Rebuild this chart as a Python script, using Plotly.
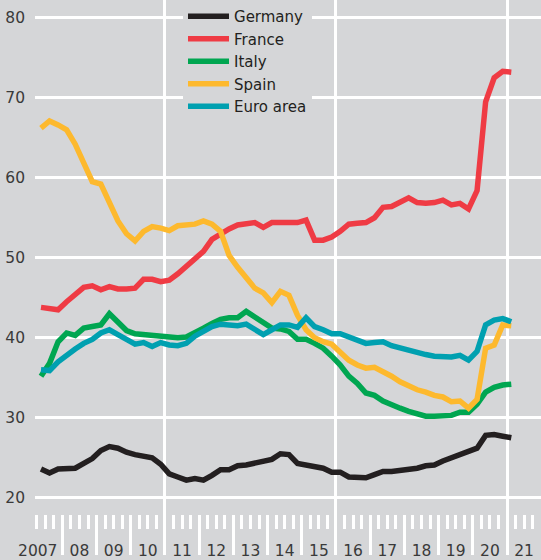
import plotly.graph_objects as go

# Quarterly observations, 2007Q2 .. 2021Q1
start_year, start_q = 2007, 2
n_obs = 56
quarters = []
y, q = start_year, start_q
for _ in range(n_obs):
    quarters.append((y, q))
    q += 1
    if q > 4:
        q = 1
        y += 1
x_vals = [yy + (qq - 0.5) / 4 for yy, qq in quarters]

germany = [23.6, 23.1, 23.6, 23.7, 23.7, 24.3, 24.9, 25.9, 26.4, 26.2,
           25.7, 25.4, 25.2, 25.0, 24.2, 23.0, 22.6, 22.2, 22.4, 22.2,
           22.8, 23.5, 23.5, 24.0, 24.1, 24.3, 24.5, 24.8, 25.5, 25.4,
           24.3, 24.1, 23.9, 23.7, 23.2, 23.2, 22.6, 22.6, 22.5, 22.9,
           23.3, 23.3, 23.4, 23.6, 23.7, 24.0, 24.1, 24.6, 25.0, 25.5,
           25.8, 26.2, 27.8, 27.9, 27.7, 27.5]
france = [43.8, 43.7, 43.5, 44.5, 45.4, 46.3, 46.5, 46.0, 46.4, 46.1,
          46.1, 46.2, 47.3, 47.3, 47.0, 47.2, 48.0, 49.0, 50.0, 50.8,
          52.3, 53.0, 53.6, 54.1, 54.2, 54.4, 53.8, 54.4, 54.4, 54.4,
          54.4, 54.7, 52.2, 52.2, 52.6, 53.3, 54.2, 54.3, 54.4, 55.0,
          56.3, 56.4, 56.9, 57.5, 56.9, 56.8, 56.9, 57.2, 56.6, 56.8,
          56.1, 58.4, 69.5, 72.5, 73.3, 73.2]
italy = [35.2, 36.8, 39.5, 40.6, 40.3, 41.2, 41.4, 41.6, 43.0, 41.9,
         40.9, 40.5, 40.4, 40.3, 40.2, 40.1, 40.0, 40.1, 40.6, 41.2,
         41.8, 42.3, 42.5, 42.5, 43.3, 42.6, 41.7, 41.2, 41.1, 40.8,
         39.8, 39.8, 39.3, 38.7, 37.7, 36.6, 35.2, 34.3, 33.1, 32.8,
         32.1, 31.6, 31.2, 30.8, 30.5, 30.2, 30.2, 30.2, 30.3, 30.7,
         30.7, 31.7, 33.2, 33.8, 34.1, 34.2]
spain = [66.2, 67.1, 66.6, 66.0, 64.2, 61.7, 59.5, 59.2, 57.0, 54.6,
         53.0, 52.1, 53.3, 53.9, 53.7, 53.4, 54.0, 54.1, 54.2, 54.6,
         54.2, 53.3, 50.3, 48.8, 47.5, 46.2, 45.6, 44.4, 45.8, 45.3,
         42.8, 41.0, 40.0, 39.5, 39.2, 38.3, 37.2, 36.6, 36.2, 36.3,
         35.8, 35.2, 34.5, 34.0, 33.5, 33.2, 32.8, 32.6, 32.0, 32.1,
         31.2, 32.3, 38.7, 39.1, 41.6, 41.5]
euro_area = [36.0, 35.9, 37.0, 37.9, 38.6, 39.3, 39.8, 40.6, 41.0, 40.4,
             39.7, 39.2, 39.4, 38.9, 39.4, 39.1, 39.0, 39.3, 40.2, 40.8,
             41.4, 41.7, 41.6, 41.5, 41.7, 41.0, 40.4, 41.0, 41.6, 41.6,
             41.3, 42.5, 41.4, 41.0, 40.5, 40.5, 40.1, 39.7, 39.3, 39.4,
             39.5, 39.0, 38.7, 38.5, 38.2, 37.9, 37.7, 37.6, 37.6, 37.8,
             37.2, 38.3, 41.6, 42.2, 42.4, 42.0]

series_names = ["Germany", "France", "Italy", "Spain", "Euro area"]
series_values = [germany, france, italy, spain, euro_area]
series_colors = ["#231f20", "#ef3b44", "#00a651", "#fdb92e", "#00a0b0"]

y_ticks = [20, 30, 40, 50, 60, 70, 80]
year_label_vals = [2007.28] + [yr + 0.5 for yr in range(2008, 2022)]
year_label_text = ["2007"] + [f"{yr % 100:02d}" for yr in range(2008, 2022)]
grid_years = [2011, 2016, 2021]

BG = "#d5d6d8"
FONT = "DejaVu Sans"
x_range = [2007.2, 2021.994]
y_range = [13.224, 82.218]

fig = go.Figure()
for name, vals, col in zip(series_names, series_values, series_colors):
    fig.add_trace(go.Scatter(x=x_vals, y=vals, name=name, mode="lines",
                             line=dict(color=col, width=5.5)))

# invisible carriers so the overlay tick / label axes get drawn
for ax in ["x2", "x3"]:
    fig.add_trace(go.Scatter(x=x_vals, y=germany, xaxis=ax, yaxis="y",
                             mode="none", showlegend=False,
                             hoverinfo="skip"))

fig.update_layout(
    width=541, height=560,
    margin=dict(l=35, r=0, t=0, b=0),
    paper_bgcolor=BG, plot_bgcolor=BG,
    font=dict(family=FONT, size=15.5, color="#3a3a3a"),
    showlegend=True,
    legend=dict(x=0.2925, y=1, xanchor="left", yanchor="top",
                bgcolor=BG, borderwidth=0, itemwidth=41,
                font=dict(family=FONT, size=15, color="#231f20"),
                tracegroupgap=0),
    xaxis=dict(range=x_range, tickvals=grid_years, showticklabels=False,
               ticks="", showgrid=True, gridcolor="white", gridwidth=2.5,
               zeroline=False, showline=False),
    xaxis2=dict(range=x_range, overlaying="x", anchor="free",
                position=39 / 560, side="bottom",
                tick0=2007, dtick=1, ticks="outside", ticklen=40,
                tickwidth=2.5, tickcolor="white", showticklabels=False,
                showgrid=False, zeroline=False, showline=False,
                minor=dict(dtick=0.25, tick0=2007, ticks="outside",
                           ticklen=14, tickwidth=2.5, tickcolor="white",
                           showgrid=False)),
    xaxis3=dict(range=x_range, overlaying="x", anchor="free",
                position=13 / 560, side="bottom",
                tickvals=year_label_vals, ticktext=year_label_text,
                ticks="", showgrid=False, zeroline=False, showline=False,
                tickfont=dict(family=FONT, size=15.5, color="#3a3a3a")),
    yaxis=dict(range=y_range, tickvals=y_ticks, ticks="",
               showgrid=True, gridcolor="white", gridwidth=2.5,
               zeroline=False, showline=False, ticklabelstandoff=9,
               tickfont=dict(family=FONT, size=15.5, color="#3a3a3a")),
)

fig.write_html("out.html",
               config={"displayModeBar": False},
               post_script="document.body.style.margin='0';"
                           "document.body.style.padding='0';")
